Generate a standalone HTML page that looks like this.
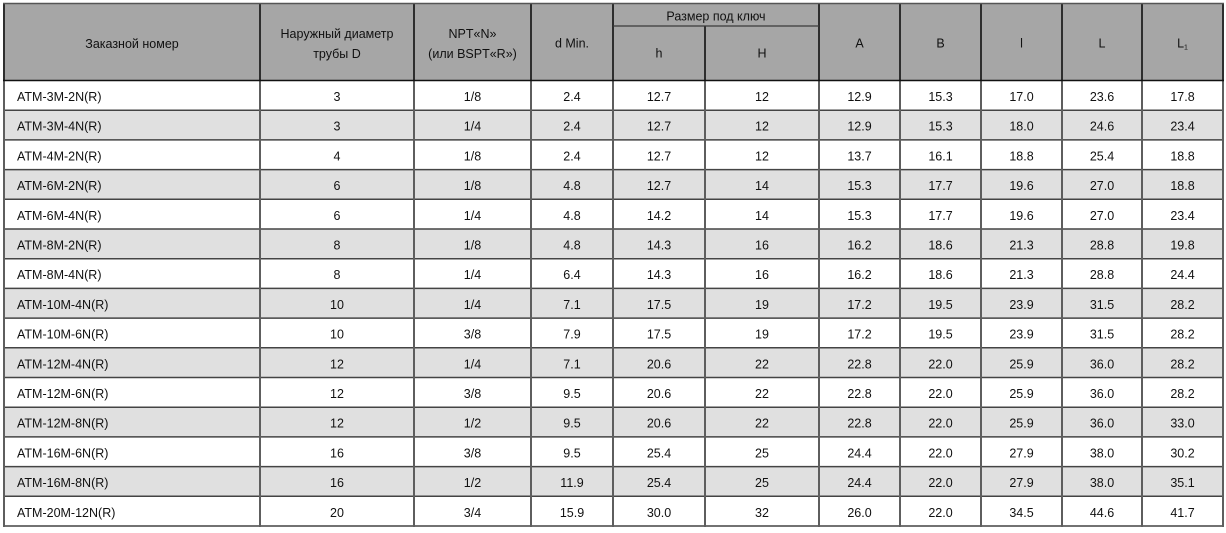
<!DOCTYPE html>
<html><head><meta charset="utf-8"><style>
html,body{margin:0;padding:0;background:#fff;width:1226px;height:533px;overflow:hidden}
svg{display:block}
text{font-family:"Liberation Sans","DejaVu Sans",sans-serif;font-size:12.5px;fill:#111}
.c{text-anchor:middle}
</style></head><body>
<svg width="1226" height="533" viewBox="0 0 1226 533" xmlns="http://www.w3.org/2000/svg">
<rect x="0" y="0" width="1226" height="533" fill="#fff"/>
<rect x="4" y="3.5" width="1219" height="77" fill="#a6a6a6"/>
<g fill="#e0e0e0">
<rect x="4" y="110.2" width="1219" height="29.7"/>
<rect x="4" y="169.6" width="1219" height="29.7"/>
<rect x="4" y="229" width="1219" height="29.7"/>
<rect x="4" y="288.4" width="1219" height="29.7"/>
<rect x="4" y="347.8" width="1219" height="29.7"/>
<rect x="4" y="407.2" width="1219" height="29.7"/>
<rect x="4" y="466.6" width="1219" height="29.7"/>
</g>
<g stroke="#444" stroke-width="1.5">
<line x1="4" y1="110.2" x2="1223" y2="110.2"/>
<line x1="4" y1="139.9" x2="1223" y2="139.9"/>
<line x1="4" y1="169.6" x2="1223" y2="169.6"/>
<line x1="4" y1="199.3" x2="1223" y2="199.3"/>
<line x1="4" y1="229" x2="1223" y2="229"/>
<line x1="4" y1="258.7" x2="1223" y2="258.7"/>
<line x1="4" y1="288.4" x2="1223" y2="288.4"/>
<line x1="4" y1="318.1" x2="1223" y2="318.1"/>
<line x1="4" y1="347.8" x2="1223" y2="347.8"/>
<line x1="4" y1="377.5" x2="1223" y2="377.5"/>
<line x1="4" y1="407.2" x2="1223" y2="407.2"/>
<line x1="4" y1="436.9" x2="1223" y2="436.9"/>
<line x1="4" y1="466.6" x2="1223" y2="466.6"/>
<line x1="4" y1="496.3" x2="1223" y2="496.3"/>
<line x1="4" y1="526" x2="1223" y2="526"/>
</g>
<g stroke="#5e5e5e" stroke-width="2">
<line x1="4" y1="80" x2="4" y2="527"/>
<line x1="260" y1="80" x2="260" y2="527"/>
<line x1="414" y1="80" x2="414" y2="527"/>
<line x1="531" y1="80" x2="531" y2="527"/>
<line x1="613" y1="80" x2="613" y2="527"/>
<line x1="705" y1="80" x2="705" y2="527"/>
<line x1="819" y1="80" x2="819" y2="527"/>
<line x1="900" y1="80" x2="900" y2="527"/>
<line x1="981" y1="80" x2="981" y2="527"/>
<line x1="1062" y1="80" x2="1062" y2="527"/>
<line x1="1142" y1="80" x2="1142" y2="527"/>
<line x1="1223" y1="80" x2="1223" y2="527"/>
</g>
<g stroke="#2e2e2e" stroke-width="2">
<line x1="4" y1="3" x2="4" y2="81"/>
<line x1="260" y1="3" x2="260" y2="81"/>
<line x1="414" y1="3" x2="414" y2="81"/>
<line x1="531" y1="3" x2="531" y2="81"/>
<line x1="613" y1="3" x2="613" y2="81"/>
<line x1="705" y1="26" x2="705" y2="81"/>
<line x1="819" y1="3" x2="819" y2="81"/>
<line x1="900" y1="3" x2="900" y2="81"/>
<line x1="981" y1="3" x2="981" y2="81"/>
<line x1="1062" y1="3" x2="1062" y2="81"/>
<line x1="1142" y1="3" x2="1142" y2="81"/>
<line x1="1223" y1="3" x2="1223" y2="81"/>
</g>
<line x1="3" y1="3.5" x2="1224" y2="3.5" stroke="#555" stroke-width="1.5"/>
<line x1="613" y1="26" x2="819" y2="26" stroke="#3a3a3a" stroke-width="1.2"/>
<line x1="3" y1="80.5" x2="1224" y2="80.5" stroke="#111" stroke-width="1.5"/>

<text class="c" x="132" y="48">Заказной номер</text>
<text class="c" x="337" y="38">Наружный диаметр</text>
<text class="c" x="337" y="58">трубы D</text>
<text class="c" x="472.5" y="38">NPT«N»</text>
<text class="c" x="472.5" y="58">(или BSPT«R»)</text>
<text class="c" x="572" y="47.5">d Min.</text>
<text class="c" x="716" y="20.5">Размер под ключ</text>
<text class="c" x="659" y="57.5">h</text>
<text class="c" x="762" y="57.5">H</text>
<text class="c" x="859.5" y="47.5">A</text>
<text class="c" x="940.5" y="47.5">B</text>
<text class="c" x="1021.5" y="47.5">l</text>
<text class="c" x="1102" y="47.5">L</text>
<text class="c" x="1182.5" y="47.5">L<tspan font-size="7" dy="2">1</tspan></text>

<g>
<text x="17" y="101">ATM-3M-2N(R)</text>
<text x="17" y="130.7">ATM-3M-4N(R)</text>
<text x="17" y="160.4">ATM-4M-2N(R)</text>
<text x="17" y="190.1">ATM-6M-2N(R)</text>
<text x="17" y="219.8">ATM-6M-4N(R)</text>
<text x="17" y="249.5">ATM-8M-2N(R)</text>
<text x="17" y="279.2">ATM-8M-4N(R)</text>
<text x="17" y="308.9">ATM-10M-4N(R)</text>
<text x="17" y="338.6">ATM-10M-6N(R)</text>
<text x="17" y="368.3">ATM-12M-4N(R)</text>
<text x="17" y="398">ATM-12M-6N(R)</text>
<text x="17" y="427.7">ATM-12M-8N(R)</text>
<text x="17" y="457.4">ATM-16M-6N(R)</text>
<text x="17" y="487.1">ATM-16M-8N(R)</text>
<text x="17" y="516.8">ATM-20M-12N(R)</text>
</g>
<g>
<text class="c" x="337" y="101">3</text><text class="c" x="472.5" y="101">1/8</text><text class="c" x="572" y="101">2.4</text><text class="c" x="659" y="101">12.7</text><text class="c" x="762" y="101">12</text><text class="c" x="859.5" y="101">12.9</text><text class="c" x="940.5" y="101">15.3</text><text class="c" x="1021.5" y="101">17.0</text><text class="c" x="1102" y="101">23.6</text><text class="c" x="1182.5" y="101">17.8</text>

<text class="c" x="337" y="130.7">3</text><text class="c" x="472.5" y="130.7">1/4</text><text class="c" x="572" y="130.7">2.4</text><text class="c" x="659" y="130.7">12.7</text><text class="c" x="762" y="130.7">12</text><text class="c" x="859.5" y="130.7">12.9</text><text class="c" x="940.5" y="130.7">15.3</text><text class="c" x="1021.5" y="130.7">18.0</text><text class="c" x="1102" y="130.7">24.6</text><text class="c" x="1182.5" y="130.7">23.4</text>

<text class="c" x="337" y="160.4">4</text><text class="c" x="472.5" y="160.4">1/8</text><text class="c" x="572" y="160.4">2.4</text><text class="c" x="659" y="160.4">12.7</text><text class="c" x="762" y="160.4">12</text><text class="c" x="859.5" y="160.4">13.7</text><text class="c" x="940.5" y="160.4">16.1</text><text class="c" x="1021.5" y="160.4">18.8</text><text class="c" x="1102" y="160.4">25.4</text><text class="c" x="1182.5" y="160.4">18.8</text>

<text class="c" x="337" y="190.1">6</text><text class="c" x="472.5" y="190.1">1/8</text><text class="c" x="572" y="190.1">4.8</text><text class="c" x="659" y="190.1">12.7</text><text class="c" x="762" y="190.1">14</text><text class="c" x="859.5" y="190.1">15.3</text><text class="c" x="940.5" y="190.1">17.7</text><text class="c" x="1021.5" y="190.1">19.6</text><text class="c" x="1102" y="190.1">27.0</text><text class="c" x="1182.5" y="190.1">18.8</text>

<text class="c" x="337" y="219.8">6</text><text class="c" x="472.5" y="219.8">1/4</text><text class="c" x="572" y="219.8">4.8</text><text class="c" x="659" y="219.8">14.2</text><text class="c" x="762" y="219.8">14</text><text class="c" x="859.5" y="219.8">15.3</text><text class="c" x="940.5" y="219.8">17.7</text><text class="c" x="1021.5" y="219.8">19.6</text><text class="c" x="1102" y="219.8">27.0</text><text class="c" x="1182.5" y="219.8">23.4</text>

<text class="c" x="337" y="249.5">8</text><text class="c" x="472.5" y="249.5">1/8</text><text class="c" x="572" y="249.5">4.8</text><text class="c" x="659" y="249.5">14.3</text><text class="c" x="762" y="249.5">16</text><text class="c" x="859.5" y="249.5">16.2</text><text class="c" x="940.5" y="249.5">18.6</text><text class="c" x="1021.5" y="249.5">21.3</text><text class="c" x="1102" y="249.5">28.8</text><text class="c" x="1182.5" y="249.5">19.8</text>

<text class="c" x="337" y="279.2">8</text><text class="c" x="472.5" y="279.2">1/4</text><text class="c" x="572" y="279.2">6.4</text><text class="c" x="659" y="279.2">14.3</text><text class="c" x="762" y="279.2">16</text><text class="c" x="859.5" y="279.2">16.2</text><text class="c" x="940.5" y="279.2">18.6</text><text class="c" x="1021.5" y="279.2">21.3</text><text class="c" x="1102" y="279.2">28.8</text><text class="c" x="1182.5" y="279.2">24.4</text>

<text class="c" x="337" y="308.9">10</text><text class="c" x="472.5" y="308.9">1/4</text><text class="c" x="572" y="308.9">7.1</text><text class="c" x="659" y="308.9">17.5</text><text class="c" x="762" y="308.9">19</text><text class="c" x="859.5" y="308.9">17.2</text><text class="c" x="940.5" y="308.9">19.5</text><text class="c" x="1021.5" y="308.9">23.9</text><text class="c" x="1102" y="308.9">31.5</text><text class="c" x="1182.5" y="308.9">28.2</text>

<text class="c" x="337" y="338.6">10</text><text class="c" x="472.5" y="338.6">3/8</text><text class="c" x="572" y="338.6">7.9</text><text class="c" x="659" y="338.6">17.5</text><text class="c" x="762" y="338.6">19</text><text class="c" x="859.5" y="338.6">17.2</text><text class="c" x="940.5" y="338.6">19.5</text><text class="c" x="1021.5" y="338.6">23.9</text><text class="c" x="1102" y="338.6">31.5</text><text class="c" x="1182.5" y="338.6">28.2</text>

<text class="c" x="337" y="368.3">12</text><text class="c" x="472.5" y="368.3">1/4</text><text class="c" x="572" y="368.3">7.1</text><text class="c" x="659" y="368.3">20.6</text><text class="c" x="762" y="368.3">22</text><text class="c" x="859.5" y="368.3">22.8</text><text class="c" x="940.5" y="368.3">22.0</text><text class="c" x="1021.5" y="368.3">25.9</text><text class="c" x="1102" y="368.3">36.0</text><text class="c" x="1182.5" y="368.3">28.2</text>

<text class="c" x="337" y="398">12</text><text class="c" x="472.5" y="398">3/8</text><text class="c" x="572" y="398">9.5</text><text class="c" x="659" y="398">20.6</text><text class="c" x="762" y="398">22</text><text class="c" x="859.5" y="398">22.8</text><text class="c" x="940.5" y="398">22.0</text><text class="c" x="1021.5" y="398">25.9</text><text class="c" x="1102" y="398">36.0</text><text class="c" x="1182.5" y="398">28.2</text>

<text class="c" x="337" y="427.7">12</text><text class="c" x="472.5" y="427.7">1/2</text><text class="c" x="572" y="427.7">9.5</text><text class="c" x="659" y="427.7">20.6</text><text class="c" x="762" y="427.7">22</text><text class="c" x="859.5" y="427.7">22.8</text><text class="c" x="940.5" y="427.7">22.0</text><text class="c" x="1021.5" y="427.7">25.9</text><text class="c" x="1102" y="427.7">36.0</text><text class="c" x="1182.5" y="427.7">33.0</text>

<text class="c" x="337" y="457.4">16</text><text class="c" x="472.5" y="457.4">3/8</text><text class="c" x="572" y="457.4">9.5</text><text class="c" x="659" y="457.4">25.4</text><text class="c" x="762" y="457.4">25</text><text class="c" x="859.5" y="457.4">24.4</text><text class="c" x="940.5" y="457.4">22.0</text><text class="c" x="1021.5" y="457.4">27.9</text><text class="c" x="1102" y="457.4">38.0</text><text class="c" x="1182.5" y="457.4">30.2</text>

<text class="c" x="337" y="487.1">16</text><text class="c" x="472.5" y="487.1">1/2</text><text class="c" x="572" y="487.1">11.9</text><text class="c" x="659" y="487.1">25.4</text><text class="c" x="762" y="487.1">25</text><text class="c" x="859.5" y="487.1">24.4</text><text class="c" x="940.5" y="487.1">22.0</text><text class="c" x="1021.5" y="487.1">27.9</text><text class="c" x="1102" y="487.1">38.0</text><text class="c" x="1182.5" y="487.1">35.1</text>

<text class="c" x="337" y="516.8">20</text><text class="c" x="472.5" y="516.8">3/4</text><text class="c" x="572" y="516.8">15.9</text><text class="c" x="659" y="516.8">30.0</text><text class="c" x="762" y="516.8">32</text><text class="c" x="859.5" y="516.8">26.0</text><text class="c" x="940.5" y="516.8">22.0</text><text class="c" x="1021.5" y="516.8">34.5</text><text class="c" x="1102" y="516.8">44.6</text><text class="c" x="1182.5" y="516.8">41.7</text>
</g>
</svg>
</body></html>
